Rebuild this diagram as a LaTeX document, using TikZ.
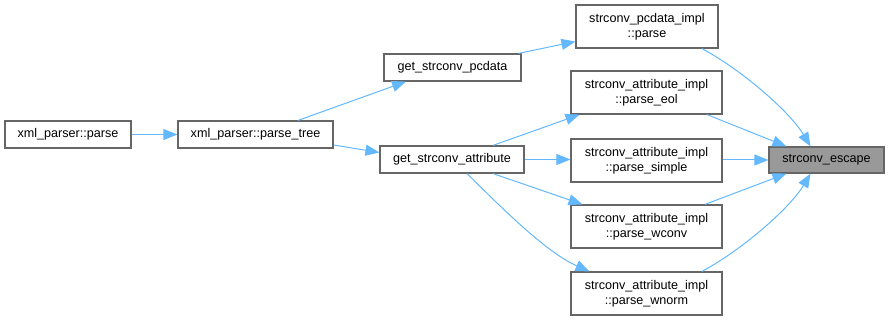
\documentclass[tikz,border=0pt]{standalone}
\usepackage{fontspec}
\setmainfont{Liberation Sans}
\usetikzlibrary{arrows.meta}
\definecolor{edgeblue}{HTML}{63B8FF}
\definecolor{boxline}{HTML}{666666}
\definecolor{hilite}{HTML}{999999}
\begin{document}
\begin{tikzpicture}[x=1pt,y=-1pt,
  fn/.style={draw=boxline,line width=1.2pt,fill=white,inner sep=0pt,
    font=\fontsize{12.6}{15}\selectfont,align=center},
  fn1/.style={fn,minimum height=27pt},
  fn2/.style={fn,minimum height=43pt,minimum width=151pt},
  call/.style={draw=edgeblue,line width=1pt,
    -{Triangle[length=14pt,width=11pt,fill=edgeblue]}}]
\useasboundingbox (0,0) rectangle (888,320);

% functions
\node[fn1,minimum width=126pt] (xparse) at (68,134.5) {xml\_parser::parse};
\node[fn1,minimum width=155pt] (xtree) at (255.5,134.5) {xml\_parser::parse\_tree};
\node[fn1,minimum width=137pt] (gpc) at (452.5,67.5) {get\_strconv\_pcdata};
\node[fn1,minimum width=144pt] (gattr) at (452,159.5) {get\_strconv\_attribute};
\node[fn2,minimum width=142pt] (pimpl) at (647,26.5) {strconv\_pcdata\_impl\\::parse};
\node[fn2] (peol) at (646.5,92.5) {strconv\_attribute\_impl\\::parse\_eol};
\node[fn2] (psimple) at (646.5,160.5) {strconv\_attribute\_impl\\::parse\_simple};
\node[fn2] (pwconv) at (646.5,226.5) {strconv\_attribute\_impl\\::parse\_wconv};
\node[fn2] (pwnorm) at (646.5,293.5) {strconv\_attribute\_impl\\::parse\_wnorm};
\node[fn1,minimum width=115pt,minimum height=26pt,fill=hilite] (esc) at (826.5,160) {strconv\_escape};

% calls
\draw[call] (xparse.east) -- (xtree.west);
\draw[call] ([xshift=42.5pt]xtree.north) -- ([xshift=-46.5pt]gpc.south);
\draw[call] ([yshift=-10.5pt]xtree.east) -- ([yshift=7pt]gattr.west);
\draw[call] ([xshift=-3pt]gpc.north east) -- ([yshift=-15pt]pimpl.west);
\draw[call] ([xshift=41pt]gattr.north) -- ([xshift=-67pt]peol.south);
\draw[call] (gattr.east) -- (gattr.east -| psimple.west);
\draw[call] ([xshift=41pt]gattr.south) -- ([xshift=-64pt]pwconv.north);
\draw[call] ([xshift=15pt]gattr.south) .. controls (497,203) and (545,252) .. ([xshift=-57pt]pwnorm.north);
\draw[call] ([xshift=55pt]pimpl.south) .. controls (742,70) and (790,112) .. ([xshift=-16pt]esc.north);
\draw[call] ([xshift=60.5pt]peol.south) -- ([xshift=18pt]esc.north west);
\draw[call] (psimple.east |- esc.west) -- (esc.west);
\draw[call] ([xshift=58.5pt]pwconv.north) -- ([xshift=18pt]esc.south west);
\draw[call] ([xshift=55.5pt]pwnorm.north) .. controls (742,250) and (790,208) .. ([xshift=-16pt]esc.south);
\end{tikzpicture}
\end{document}
